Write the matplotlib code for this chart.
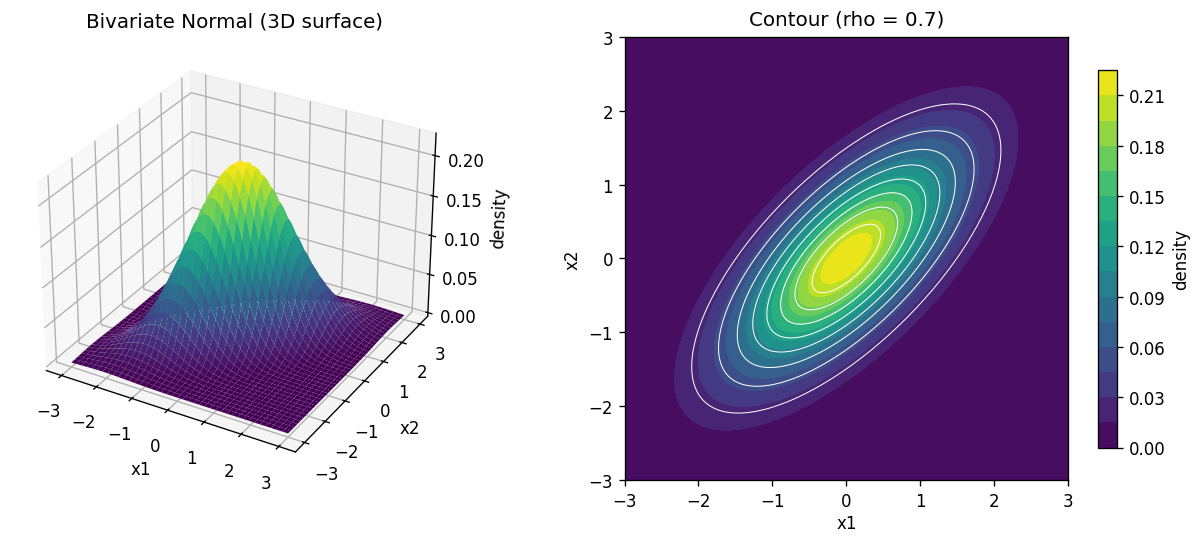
import numpy as np
import matplotlib
matplotlib.use("Agg")
import matplotlib.pyplot as plt

# the picture names the distribution (rho = 0.7), so the density is computed from it
rho = 0.7
x1 = np.linspace(-3, 3, 121)
x2 = np.linspace(-3, 3, 121)
fill_levels = 15
line_levels = 8
ticks_3d = [-3, -2, -1, 0, 1, 2, 3]

plt.rcParams["font.size"] = 9.95

X1, X2 = np.meshgrid(x1, x2)
Z = np.exp(-(X1**2 - 2*rho*X1*X2 + X2**2) / (2*(1 - rho**2))) / (2*np.pi*np.sqrt(1 - rho**2))

fig = plt.figure(figsize=(10, 4.533), dpi=120)

# 3d surface
ax = fig.add_subplot(1, 2, 1, projection="3d")
ax.plot_surface(X1, X2, Z, cmap="viridis", linewidth=0, antialiased=True)
ax.set_title("Bivariate Normal (3D surface)")
ax.set_xlabel("x1")
ax.set_ylabel("x2")
ax.set_zlabel("density")
ax.set_xticks(ticks_3d)
ax.set_yticks(ticks_3d)
ax.set_position([-0.0045, 0.116, 0.40, 0.815])

# contour
ax2 = fig.add_axes([0.5205, 0.1148, 0.3695, 0.8165])
cf = ax2.contourf(X1, X2, Z, levels=fill_levels, cmap="viridis")
ax2.contour(X1, X2, Z, levels=line_levels, colors="white", linewidths=0.6)
ax2.set_title("Contour (rho = 0.7)", pad=7.2)
ax2.set_xlabel("x1", labelpad=2.5)
ax2.set_ylabel("x2")
ax2.set_aspect("equal")

cax = fig.add_axes([0.915, 0.1755, 0.016, 0.6935])
cb = fig.colorbar(cf, cax=cax)
cb.set_label("density")

plt.savefig("out.png", dpi=120)
